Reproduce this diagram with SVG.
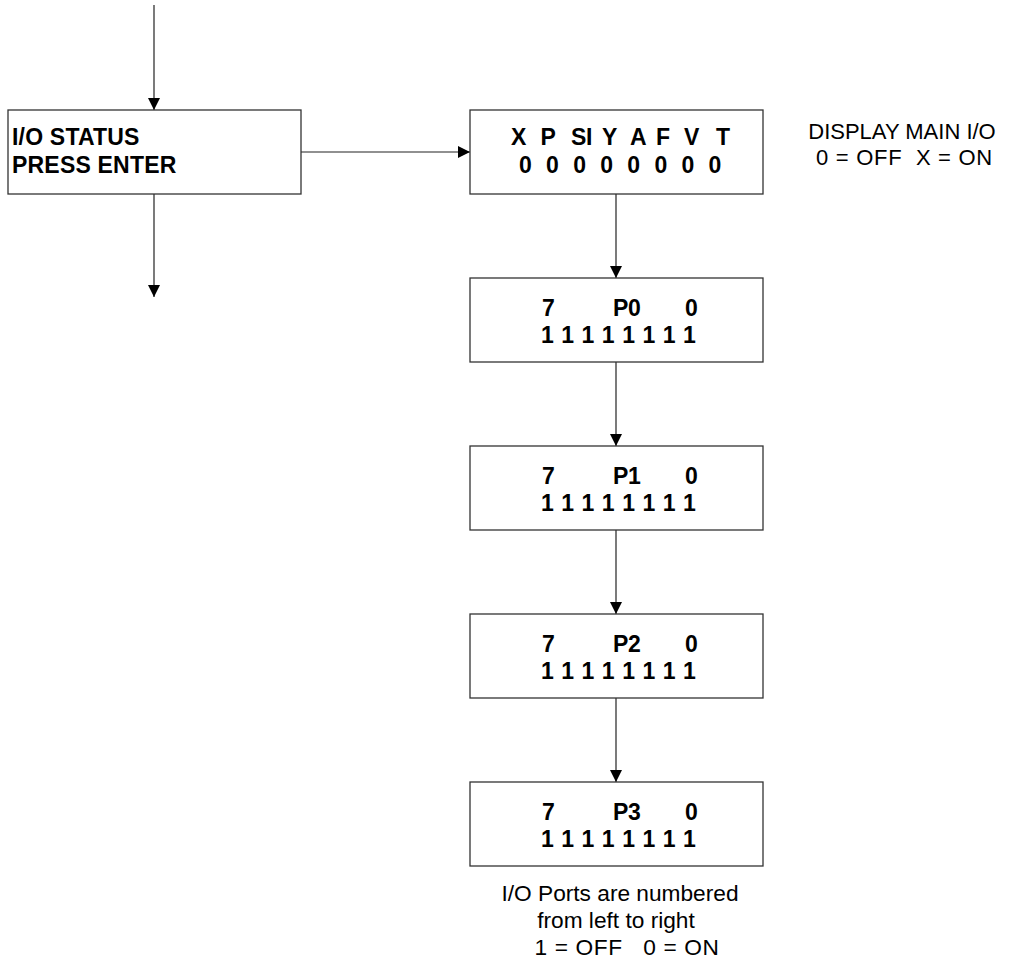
<svg xmlns="http://www.w3.org/2000/svg" width="1011" height="962" viewBox="0 0 1011 962">
<style>
.box{fill:#fff;stroke:#333;stroke-width:1.3}
.conn{stroke:#222;stroke-width:1.2;fill:none}
.b{font-family:"Liberation Sans",Arial,sans-serif;font-weight:bold;font-size:23px;fill:#000;letter-spacing:0.2px}
.ones{letter-spacing:0.55px}
.n{font-family:"Liberation Sans",Arial,sans-serif;font-size:22px;fill:#000;white-space:pre}
.m{font-size:22.7px}
</style>
<defs>
<marker id="ah" markerUnits="userSpaceOnUse" markerWidth="12" markerHeight="12" refX="12" refY="6" orient="auto">
<path d="M0,0 L12,6 L0,12 z" fill="#000"/>
</marker>
</defs>
<g id="connectors">
<line class="conn" x1="154" y1="5" x2="154" y2="110" marker-end="url(#ah)"/>
<line class="conn" x1="154" y1="194" x2="154" y2="297" marker-end="url(#ah)"/>
<line class="conn" x1="301" y1="152" x2="470" y2="152" marker-end="url(#ah)"/>
<line class="conn" x1="616" y1="194" x2="616" y2="278" marker-end="url(#ah)"/>
<line class="conn" x1="616" y1="362" x2="616" y2="446" marker-end="url(#ah)"/>
<line class="conn" x1="616" y1="530" x2="616" y2="614" marker-end="url(#ah)"/>
<line class="conn" x1="616" y1="698" x2="616" y2="782" marker-end="url(#ah)"/>
</g>
<g id="io-status">
<rect class="box" x="8" y="110" width="293" height="84"/>
<text class="b" x="12" y="145">I/O STATUS</text>
<text class="b" x="12" y="173">PRESS ENTER</text>
</g>
<g id="main-io">
<rect class="box" x="470" y="110" width="293" height="84"/>
<text class="b" x="511 527 540.5 556 571 586 594 602 619 630 648 656 672 684 702 716" y="145">X P SI Y A F V T</text>
<text class="b" x="519" y="173" style="word-spacing:7.5px">0 0 0 0 0 0 0 0</text>
</g>
<g id="main-io-note">
<text class="n" x="902" y="139" text-anchor="middle">DISPLAY MAIN I/O</text>
<text class="n" x="904.5" y="165" text-anchor="middle" style="letter-spacing:0.7px">0 = OFF  X = ON</text>
</g>
<g id="port-p0">
<rect class="box" x="470" y="278" width="293" height="84"/>
<text class="b" x="542 556 613 628 642 685" y="316">7 P0 0</text>
<text class="b ones" x="541" y="343">1 1 1 1 1 1 1 1</text>
</g>
<g id="port-p1">
<rect class="box" x="470" y="446" width="293" height="84"/>
<text class="b" x="542 556 613 628 642 685" y="484">7 P1 0</text>
<text class="b ones" x="541" y="511">1 1 1 1 1 1 1 1</text>
</g>
<g id="port-p2">
<rect class="box" x="470" y="614" width="293" height="84"/>
<text class="b" x="542 556 613 628 642 685" y="652">7 P2 0</text>
<text class="b ones" x="541" y="679">1 1 1 1 1 1 1 1</text>
</g>
<g id="port-p3">
<rect class="box" x="470" y="782" width="293" height="84"/>
<text class="b" x="542 556 613 628 642 685" y="820">7 P3 0</text>
<text class="b ones" x="541" y="847">1 1 1 1 1 1 1 1</text>
</g>
<g id="ports-note">
<text class="n m" x="620" y="901" text-anchor="middle">I/O Ports are numbered</text>
<text class="n m" x="616" y="928" text-anchor="middle">from left to right</text>
<text class="n m" x="627" y="955" text-anchor="middle" style="letter-spacing:0.6px">1 = OFF   0 = ON</text>
</g>
</svg>
